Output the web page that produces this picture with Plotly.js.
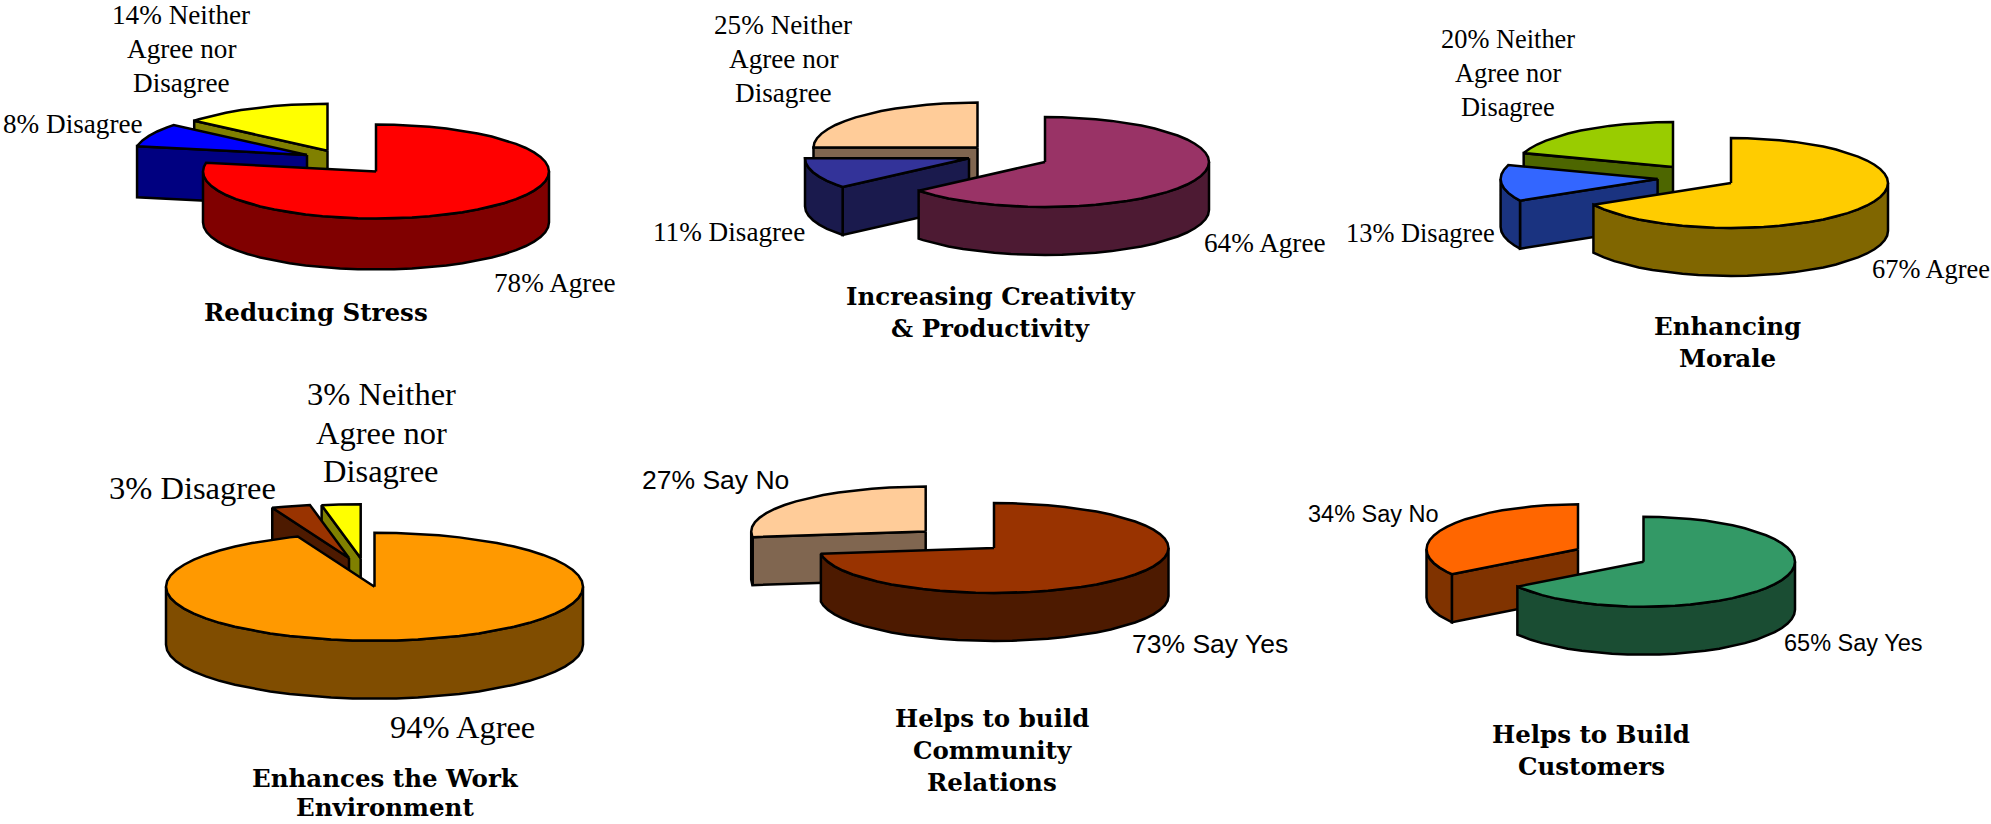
<!DOCTYPE html>
<html>
<head>
<meta charset="utf-8">
<title>Perceived benefits survey</title>
<script src="https://cdn.plot.ly/plotly-3.0.1.min.js"></script>
<style>html,body{margin:0;padding:0;background:#fff}#chart{width:1991px;height:824px}</style>
</head>
<body>
<div id="chart"></div>
<script>
// Survey results, one small set of arrays per question.
const stressCategories = ["Agree", "Disagree", "Neither Agree nor Disagree"];
const stressValues = [78, 8, 14];
const creativityCategories = ["Agree", "Disagree", "Neither Agree nor Disagree"];
const creativityValues = [64, 11, 25];
const moraleCategories = ["Agree", "Disagree", "Neither Agree nor Disagree"];
const moraleValues = [67, 13, 20];
const environmentCategories = ["Agree", "Disagree", "Neither Agree nor Disagree"];
const environmentValues = [94, 3, 3];
const communityCategories = ["Say Yes", "Say No"];
const communityValues = [73, 27];
const customerCategories = ["Say Yes", "Say No"];
const customerValues = [65, 34];

const SERIF = "Liberation Serif, serif";
const SANS = "Liberation Sans, Arial, sans-serif";
const TITLE_FONT = "DejaVu Serif, serif";

// Top-face and side colours, apex of every exploded slice, and text placement.
const panels = [
  {
    title: ["Reducing Stress"], titleAt: [316, 312], titleGap: 32,
    categories: stressCategories, values: stressValues,
    rx: 173, ry: 47, depth: 51,
    apex: [[376, 171.5], [307, 155], [327.5, 150.7]],
    top: ["#FF0000", "#0000FF", "#FFFF00"], side: ["#800000", "#000080", "#808000"],
    font: SERIF, size: 27.2, lineGap: 34,
    labels: [
      { lines: ["78% Agree"], at: [555, 283] },
      { lines: ["8% Disagree"], at: [73, 124] },
      { lines: ["14% Neither", "Agree nor", "Disagree"], at: [181, 15] }
    ]
  },
  {
    title: ["Increasing Creativity", "& Productivity"], titleAt: [990, 296], titleGap: 32,
    categories: creativityCategories, values: creativityValues,
    rx: 164, ry: 45, depth: 48,
    apex: [[1045, 162], [969, 158.3], [977.5, 147.5]],
    top: ["#993366", "#333399", "#FFCC99"], side: ["#4D1A33", "#1A1A4D", "#806650"],
    font: SERIF, size: 27.2, lineGap: 34,
    labels: [
      { lines: ["64% Agree"], at: [1265, 243] },
      { lines: ["11% Disagree"], at: [729, 232] },
      { lines: ["25% Neither", "Agree nor", "Disagree"], at: [783, 25] }
    ]
  },
  {
    title: ["Enhancing", "Morale"], titleAt: [1727, 326], titleGap: 32,
    categories: moraleCategories, values: moraleValues,
    rx: 157, ry: 45, depth: 48,
    apex: [[1731, 183], [1657.6, 179], [1673, 167]],
    top: ["#FFCC00", "#3366FF", "#99CC00"], side: ["#806600", "#1A3380", "#4D6600"],
    font: SERIF, size: 26.4, lineGap: 34,
    labels: [
      { lines: ["67% Agree"], at: [1931, 269] },
      { lines: ["13% Disagree"], at: [1420, 233] },
      { lines: ["20% Neither", "Agree nor", "Disagree"], at: [1508, 39] }
    ]
  },
  {
    title: ["Enhances the Work", "Environment"], titleAt: [385, 778], titleGap: 29.5,
    categories: environmentCategories, values: environmentValues,
    rx: 208.5, ry: 54, depth: 58,
    apex: [[374.5, 586.7], [349, 558], [360.7, 558.3]],
    top: ["#FF9900", "#993300", "#FFFF00"], side: ["#804D00", "#4D1A00", "#808000"],
    font: SERIF, size: 32.5, lineGap: 38.5,
    labels: [
      { lines: ["94% Agree"], at: [462, 727] },
      { lines: ["3% Disagree"], at: [192, 488] },
      { lines: ["3% Neither", "Agree nor", "Disagree"], at: [381, 394] }
    ]
  },
  {
    title: ["Helps to build", "Community", "Relations"], titleAt: [992, 718], titleGap: 32,
    categories: communityCategories, values: communityValues,
    rx: 174.5, ry: 45, depth: 48,
    apex: [[994, 548], [925.7, 531.5]],
    top: ["#993300", "#FFCC99"], side: ["#4D1A00", "#806650"],
    font: SANS, size: 26.5, lineGap: 32,
    labels: [
      { lines: ["73% Say Yes"], at: [1210, 644] },
      { lines: ["27% Say No"], at: [715, 480] }
    ]
  },
  {
    title: ["Helps to Build", "Customers"], titleAt: [1591, 734], titleGap: 32,
    categories: customerCategories, values: customerValues,
    rx: 151.5, ry: 45, depth: 48,
    apex: [[1643.5, 561.7], [1578, 549.3]],
    top: ["#339966", "#FF6600"], side: ["#1A4D33", "#803300"],
    font: SANS, size: 23.5, lineGap: 32,
    labels: [
      { lines: ["65% Say Yes"], at: [1853.5, 643] },
      { lines: ["34% Say No"], at: [1373, 514] }
    ]
  }
];

const TITLE_SIZE = 24.5;
const STEP = 6; // degrees between outline vertices

const rad = d => d * Math.PI / 180;

// Angle runs clockwise from twelve o'clock; the tilt flattens it to an ellipse.
function rimPoint(c, rx, ry, deg, drop) {
  return [c[0] + rx * Math.sin(rad(deg)), c[1] - ry * Math.cos(rad(deg)) + drop];
}

function sweep(a, b) {
  const out = [a];
  for (let d = Math.ceil(a / STEP + 1e-6) * STEP; d < b - 1e-6; d += STEP) out.push(d);
  out.push(b);
  return out;
}

function polygon(pts, fill, name) {
  const closed = pts.concat([pts[0]]);
  return {
    type: "scatter", mode: "lines", name: name, hoverinfo: "name",
    x: closed.map(p => p[0]), y: closed.map(p => p[1]),
    fill: "toself", fillcolor: fill,
    line: { color: "#000", width: 2.5, shape: "linear" }
  };
}

const traces = [];
const annotations = [];

function addText(text, x, y, family, size, bold) {
  annotations.push({
    x, y, xref: "x", yref: "y", showarrow: false,
    xanchor: "center", yanchor: "middle",
    text: bold ? "<b>" + text + "</b>" : text,
    font: { family, size, color: "#000" }
  });
}

panels.forEach(p => {
  const total = p.values.reduce((s, v) => s + v, 0);
  const edges = [0];
  p.values.forEach(v => edges.push(edges[edges.length - 1] + v / total * 360));

  // Farthest slice first, so the large front slice overlaps the others.
  for (let i = p.values.length - 1; i >= 0; i--) {
    const a = edges[i], b = edges[i + 1], c = p.apex[i], name = p.categories[i];
    const at = (d, drop) => rimPoint(c, p.rx, p.ry, d, drop);

    // Cut faces that turn towards the viewer.
    if (Math.cos(rad(a - 90)) < -1e-6) {
      traces.push(polygon([[c[0], c[1]], at(a, 0), at(a, p.depth), [c[0], c[1] + p.depth]], p.side[i], name));
    }
    if (Math.cos(rad(b + 90)) < -1e-6) {
      traces.push(polygon([[c[0], c[1]], at(b, 0), at(b, p.depth), [c[0], c[1] + p.depth]], p.side[i], name));
    }
    // Curved wall on the near half of the ellipse.
    const lo = Math.max(a, 90), hi = Math.min(b, 270);
    if (hi > lo) {
      const arc = sweep(lo, hi);
      const wall = arc.map(d => at(d, 0)).concat(arc.slice().reverse().map(d => at(d, p.depth)));
      traces.push(polygon(wall, p.side[i], name));
    }
    // Top face.
    const face = [[c[0], c[1]]].concat(sweep(a, b).map(d => at(d, 0)));
    traces.push(polygon(face, p.top[i], name));
  }

  p.labels.forEach(l => l.lines.forEach((t, k) =>
    addText(t, l.at[0], l.at[1] + k * p.lineGap, p.font, p.size, false)));
  p.title.forEach((t, k) =>
    addText(t, p.titleAt[0], p.titleAt[1] + k * p.titleGap, TITLE_FONT, TITLE_SIZE, true));
});

Plotly.newPlot("chart", traces, {
  width: 1991, height: 824,
  margin: { l: 0, r: 0, t: 0, b: 0 },
  paper_bgcolor: "#fff", plot_bgcolor: "#fff",
  showlegend: false,
  xaxis: { range: [0, 1991], visible: false, fixedrange: true },
  yaxis: { range: [824, 0], visible: false, fixedrange: true },
  annotations
}, { displayModeBar: false, responsive: false });
</script>
</body>
</html>
